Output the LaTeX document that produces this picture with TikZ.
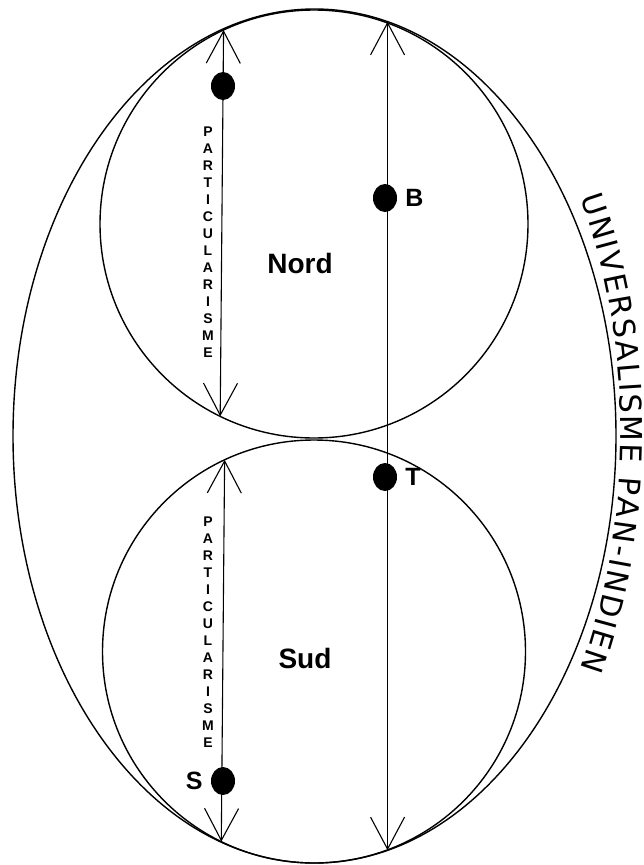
\documentclass[tikz,border=0pt]{standalone}
\usepackage{fontspec}
\setmainfont{Liberation Sans}
\newfontfamily\bordfont{DejaVu Sans}
\usepackage{tikz}
\usetikzlibrary{positioning, arrows.meta, shapes.geometric, decorations.text}
\tikzset{>={Straight Barb[length=32pt,width=34pt]}, node distance = 4pt}

\begin{document}
\begin{tikzpicture}[x=1pt, y=-1pt,
    zone/.style={draw=black, line width=1.4pt, inner sep=0pt, outer sep=0pt},
    axe/.style={<->, line width=1.1pt},
    point/.style={ellipse, fill=black, inner sep=0pt, minimum width=24pt, minimum height=28pt},
    lettre/.style={font=\bfseries\fontsize{25}{25}\selectfont, inner sep=2pt},
    region/.style={font=\bfseries\fontsize{28}{28}\selectfont},
    colonne/.style={font=\bfseries\fontsize{14}{17}\selectfont, align=center, inner sep=0pt}]
    \useasboundingbox (0,0) rectangle (644,865);

    \node[zone, ellipse, minimum width=603pt, minimum height=854pt] (monde) at (314.5,436) {};
    \node[zone, circle, minimum size=428pt] (nord) at (314,224) {};
    \node[zone, circle, minimum size=423pt] (sud) at (314,651.5) {};

    \draw[axe] (nord.244.83) -- (nord.115.17);
    \draw[axe] (sud.244.51) -- (sud.115.49);
    \draw[axe] (monde.-80.36) -- (monde.80.36);

    \node[point] (p) at (223,86) {};
    \node[point] (b) at (385,198) {};
    \node[point] (t) at (385,477) {};
    \node[point] (s) at (223,781) {};
    \node[lettre, right=6pt of b] (bLabel) {B};
    \node[lettre, right=6pt of t] (tLabel) {T};
    \node[lettre, left=6pt of s] (sLabel) {S};

    \node[region] (nordLabel) at (300,263) {Nord};
    \node[region] (sudLabel) at (305,658) {Sud};

    \node[colonne] (partNord) at (208,242) {P\\A\\R\\T\\I\\C\\U\\L\\A\\R\\I\\S\\M\\E};
    \node[colonne] (partSud) at (208,632) {P\\A\\R\\T\\I\\C\\U\\L\\A\\R\\I\\S\\M\\E};

    % texte le long du bord droit
    \path[decorate, decoration={text along path, text align={fit to path},
        text={|\bordfont\fontsize{30}{30}\selectfont|UNIVERSALISME PAN-INDIEN}}]
        (-93,433) ++(-19.3:714) arc[start angle=-19.3, end angle=19.3, radius=714];
\end{tikzpicture}
\end{document}
